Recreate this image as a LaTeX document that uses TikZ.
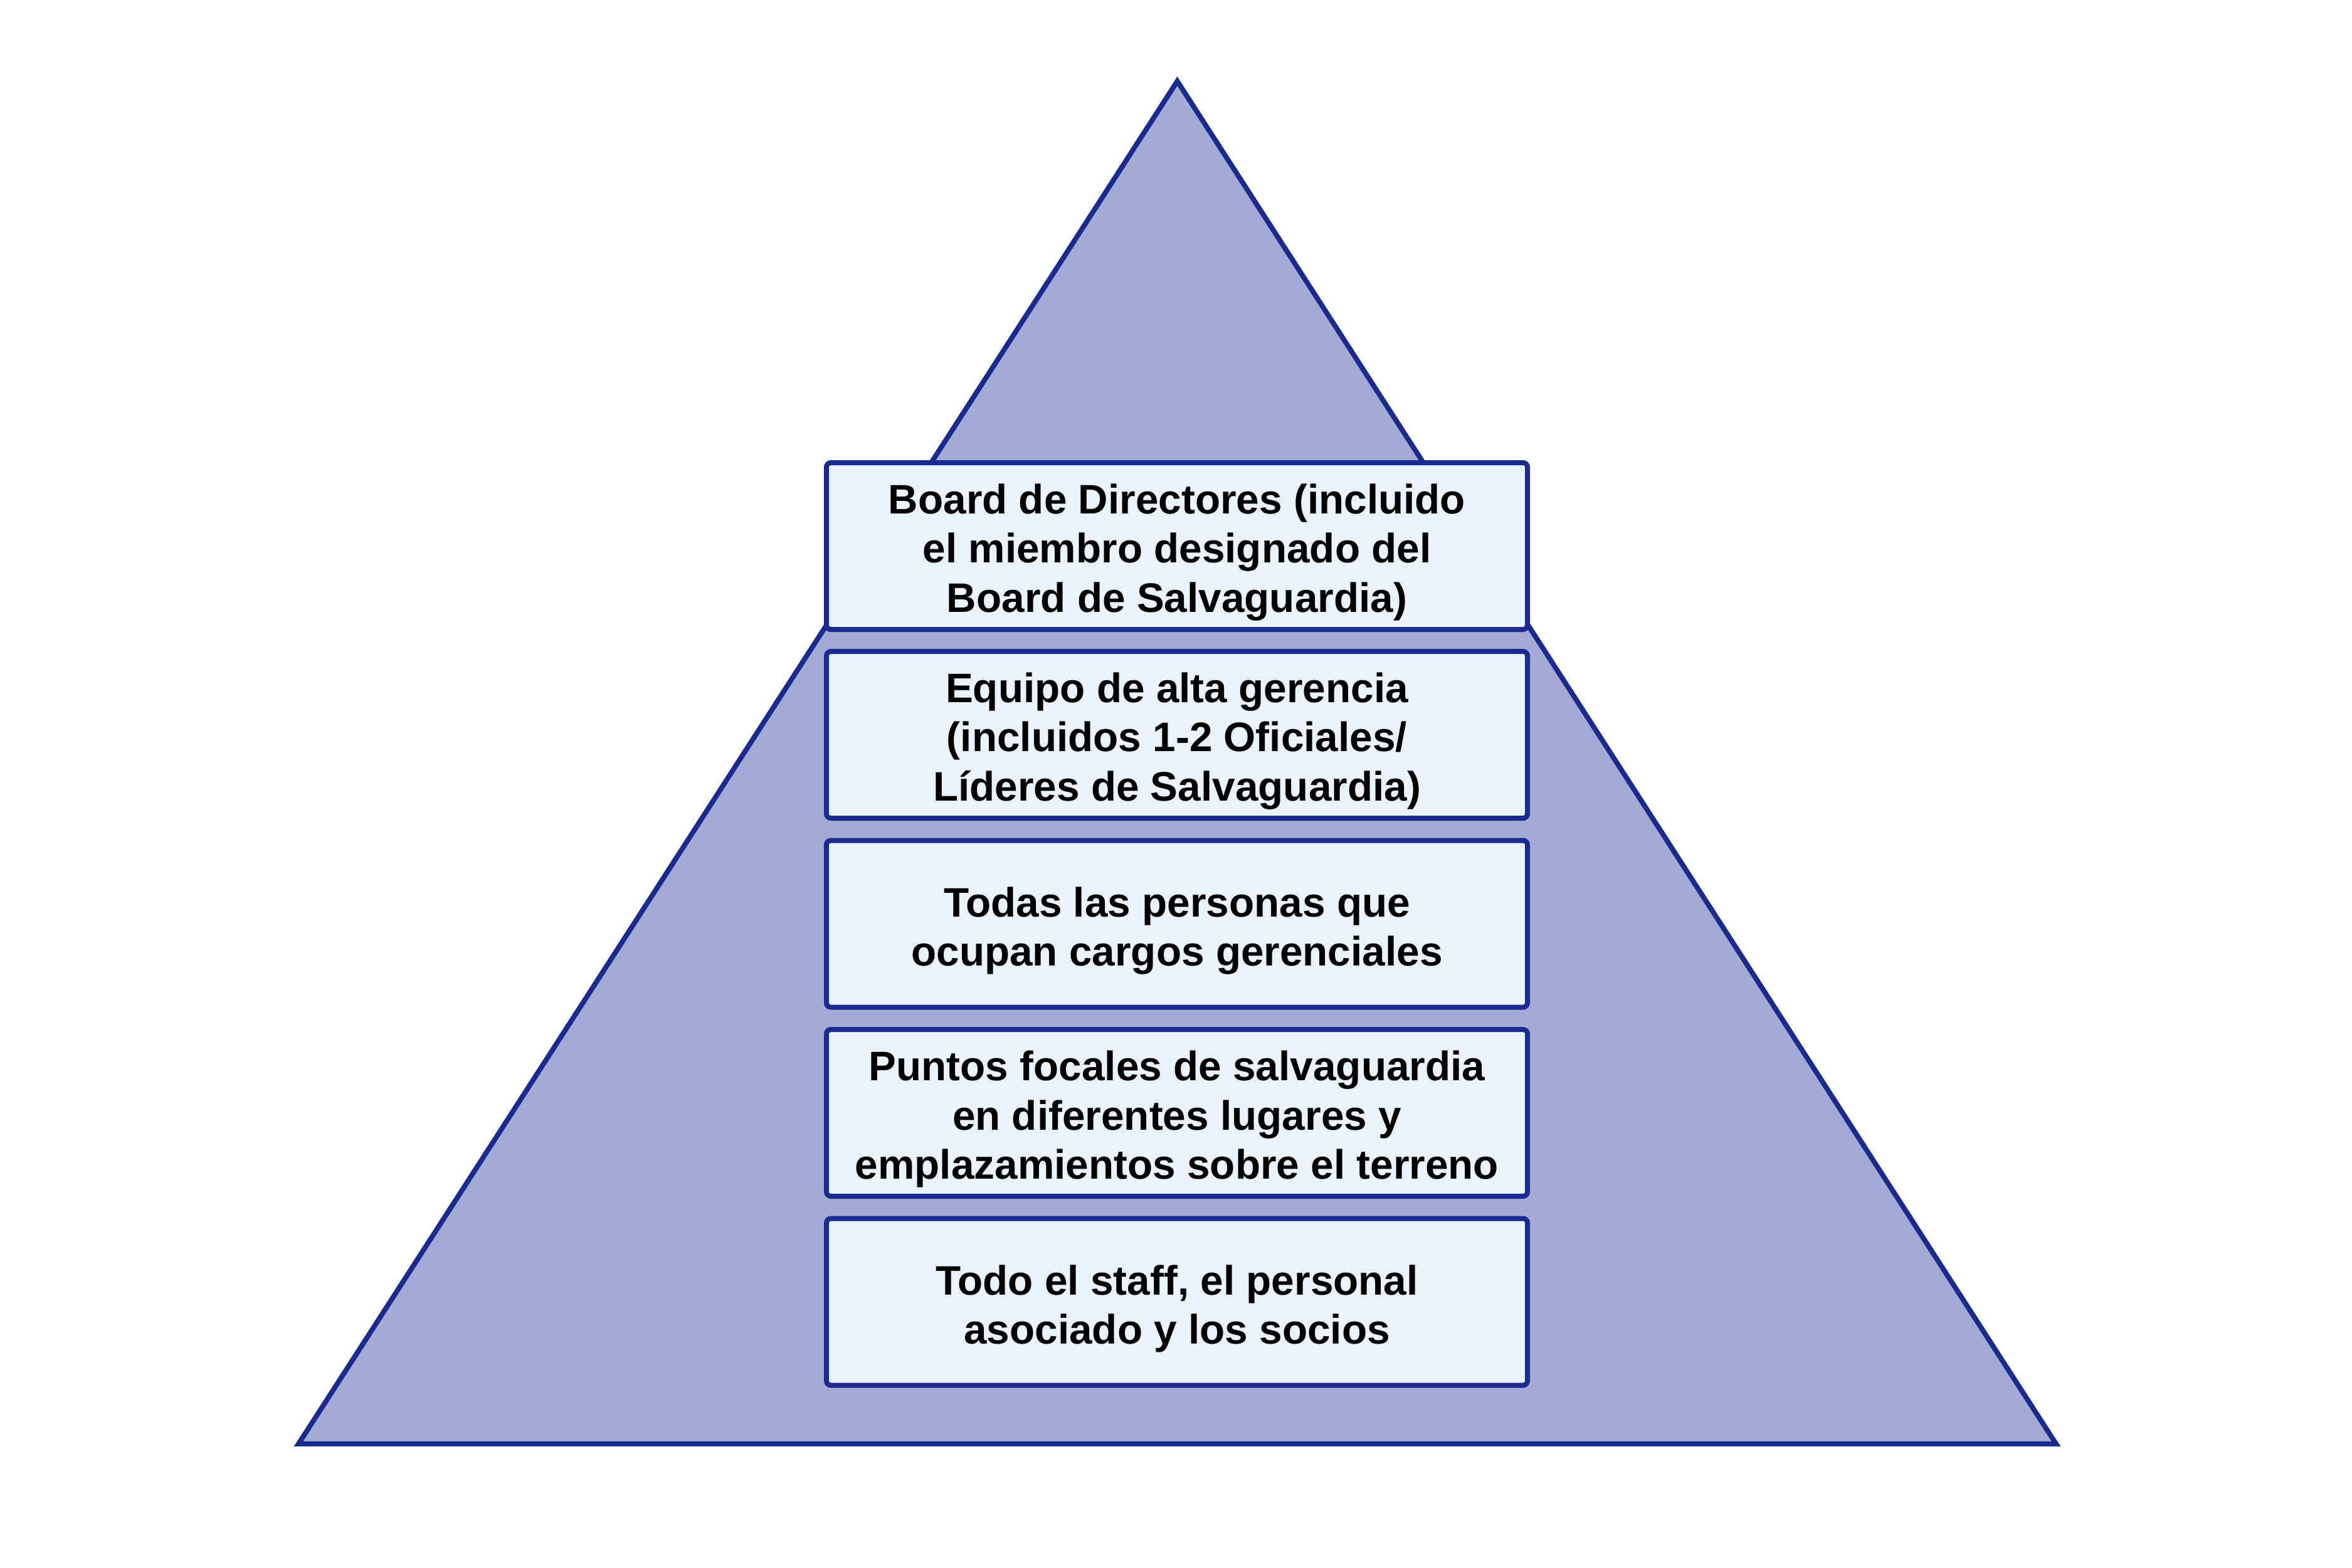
\documentclass[tikz,border=0pt]{standalone}
\usepackage{fontspec}
\setmainfont{Liberation Sans}
\definecolor{pyrfill}{HTML}{A3AAD5}
\definecolor{pyrline}{HTML}{1A2A8E}
\definecolor{boxfill}{HTML}{EBF3FA}
\tikzset{
  levelbox/.style={draw=pyrline, fill=boxfill, line width=0.08cm, rounded corners=0.07cm,
    minimum width=11.18cm, minimum height=2.66cm, inner sep=0pt},
  leveltext/.style={inner sep=0pt, align=center,
    font=\fontsize{18.7pt}{22.4pt}\selectfont\bfseries, text=black},
  pyramid/.style={draw=pyrline, fill=pyrfill, line width=0.08cm, line join=miter}
}
\begin{document}
\begin{tikzpicture}
\useasboundingbox (0,0) rectangle (37.51,-25);
\coordinate (apex) at (18.775,-1.295);
\coordinate (bl) at (4.76,-23.03);
\coordinate (br) at (32.79,-23.03);
\draw[pyramid] (apex) -- (br) -- (bl) -- cycle;
\node[levelbox] (l1) at (18.77,-8.71) {};
\node[levelbox] (l2) at (18.77,-11.72) {};
\node[levelbox] (l3) at (18.77,-14.735) {};
\node[levelbox] (l4) at (18.77,-17.75) {};
\node[levelbox] (l5) at (18.77,-20.765) {};
\node[leveltext] (t1) at ([yshift=-0.1cm]l1.center) {Board de Directores (incluido\\el miembro designado del\\Board de Salvaguardia)};
\node[leveltext] (t2) at ([yshift=-0.1cm]l2.center) {Equipo de alta gerencia\\(incluidos 1-2 Oficiales/\\Líderes de Salvaguardia)};
\node[leveltext] (t3) at ([yshift=-0.11cm]l3.center) {Todas las personas que\\ocupan cargos gerenciales};
\node[leveltext] (t4) at ([yshift=-0.1cm]l4.center) {Puntos focales de salvaguardia\\en diferentes lugares y\\emplazamientos sobre el terreno};
\node[leveltext] (t5) at ([yshift=-0.11cm]l5.center) {Todo el staff, el personal\\asociado y los socios};
\end{tikzpicture}
\end{document}
